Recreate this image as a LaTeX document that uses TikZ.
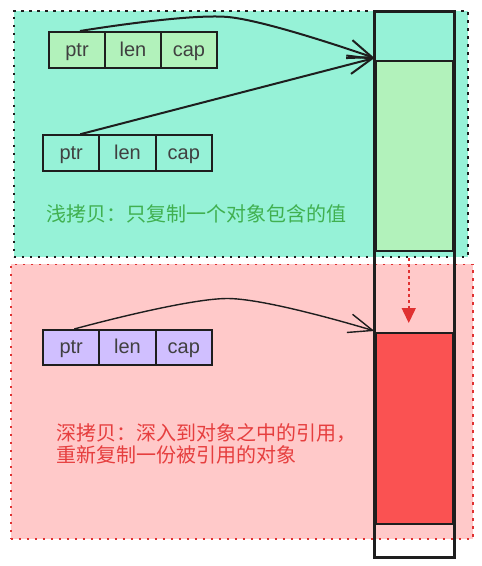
\documentclass[tikz,border=0pt]{standalone}
\usepackage{fontspec}
\setmainfont{Liberation Sans}
\newfontfamily\cjk{Noto Sans CJK SC}
\usetikzlibrary{arrows.meta}
\definecolor{mint}{HTML}{96F2D7}
\definecolor{lgreen}{HTML}{B2F2BB}
\definecolor{lpink}{HTML}{FFC9C9}
\definecolor{lpurple}{HTML}{D0BFFF}
\definecolor{strongred}{HTML}{FA5252}
\definecolor{ink}{HTML}{1E1E1E}
\definecolor{textgreen}{HTML}{40B050}
\definecolor{textred}{HTML}{E63E3E}
\definecolor{dotred}{HTML}{E03131}
\tikzset{
  region/.style={rectangle, anchor=north west, inner sep=0pt, line width=1.5pt, dash pattern=on 2.5pt off 5.5pt},
  cell/.style={rectangle, draw=ink, line width=2pt, inner sep=0pt, minimum width=56pt,
    text height=16pt, text depth=4pt, text=ink!85!white, font=\fontsize{20}{24}\selectfont},
  memblock/.style={rectangle, anchor=north west, inner sep=0pt, draw=ink, line width=2pt},
  ptrarrow/.style={draw=ink, line width=2pt, -{Straight Barb[length=24pt,width=19pt]}},
  note/.style={font=\cjk\fontsize{20}{22.5}\selectfont, inner sep=0pt, align=left},
}
\begin{document}
\begin{tikzpicture}[x=1pt,y=-1pt]
\useasboundingbox[fill=white] (0,0) rectangle (482,566);
% background regions
\node[region, draw=ink, fill=mint, minimum width=454pt, minimum height=246pt] (shallow) at (13,10) {};
\node[region, draw=dotred, fill=lpink, minimum width=462pt, minimum height=274.5pt] (deep) at (10,263.7) {};
% memory blocks
\node[memblock, fill=lgreen, minimum width=77.5pt, minimum height=190pt] (g) at (374.5,60) {};
\node[memblock, fill=strongred, minimum width=77.5pt, minimum height=191pt] (r) at (374.5,332) {};
\node[rectangle, anchor=north west, inner sep=0pt, draw=ink, line width=2.5pt, minimum width=80pt, minimum height=546pt] (col) at (373,10) {};
% struct 1
\node[cell, fill=lgreen, minimum height=36pt] (p1) at (77,50) {ptr};
\node[cell, fill=lgreen, minimum height=36pt] (l1) at (133,50) {len};
\node[cell, fill=lgreen, minimum height=36pt] (c1) at (189,50) {cap};
% struct 2
\node[cell, fill=mint, minimum height=35.5pt, minimum width=56.3pt] (p2) at (71.2,153) {ptr};
\node[cell, fill=mint, minimum height=35.5pt, minimum width=56.3pt] (l2) at (127.5,153) {len};
\node[cell, fill=mint, minimum height=35.5pt, minimum width=56.3pt] (c2) at (183.8,153) {cap};
% struct 3
\node[cell, fill=lpurple, minimum height=35pt, minimum width=56.3pt] (p3) at (71.2,347.5) {ptr};
\node[cell, fill=lpurple, minimum height=35pt, minimum width=56.3pt] (l3) at (127.5,347.5) {len};
\node[cell, fill=lpurple, minimum height=35pt, minimum width=56.3pt] (c3) at (183.8,347.5) {cap};
% texts
\node[note, text=textgreen, anchor=base west] (t1) at (46.5,221) {浅拷贝：只复制一个对象包含的值};
\node[note, text=textred, anchor=base west] (t2) at (56,462.6) {深拷贝：深入到对象之中的引用，\\重新复制一份被引用的对象};
% arrows
\coordinate (m1) at (228,17);
\coordinate (m3) at (228,298.5);
\draw[ptrarrow] plot[smooth] coordinates {([xshift=3pt]p1.north) (m1) ([yshift=2pt]g.north west)};
\draw[ptrarrow] ([xshift=9pt]p2.north) -- ([yshift=2pt]g.north west);
\draw[ptrarrow, line width=1.4pt] plot[smooth] coordinates {([xshift=3pt]p3.north) (m3) ([yshift=1pt]r.north west)};
\draw[dotred, line width=1.5pt, dash pattern=on 2.5pt off 3.5pt, shorten <=6pt, shorten >=9pt,
  -{Triangle[length=15pt,width=14pt]}] ([xshift=-5.5pt]g.south) -- ([xshift=-5.5pt]r.north);
\end{tikzpicture}
\end{document}
